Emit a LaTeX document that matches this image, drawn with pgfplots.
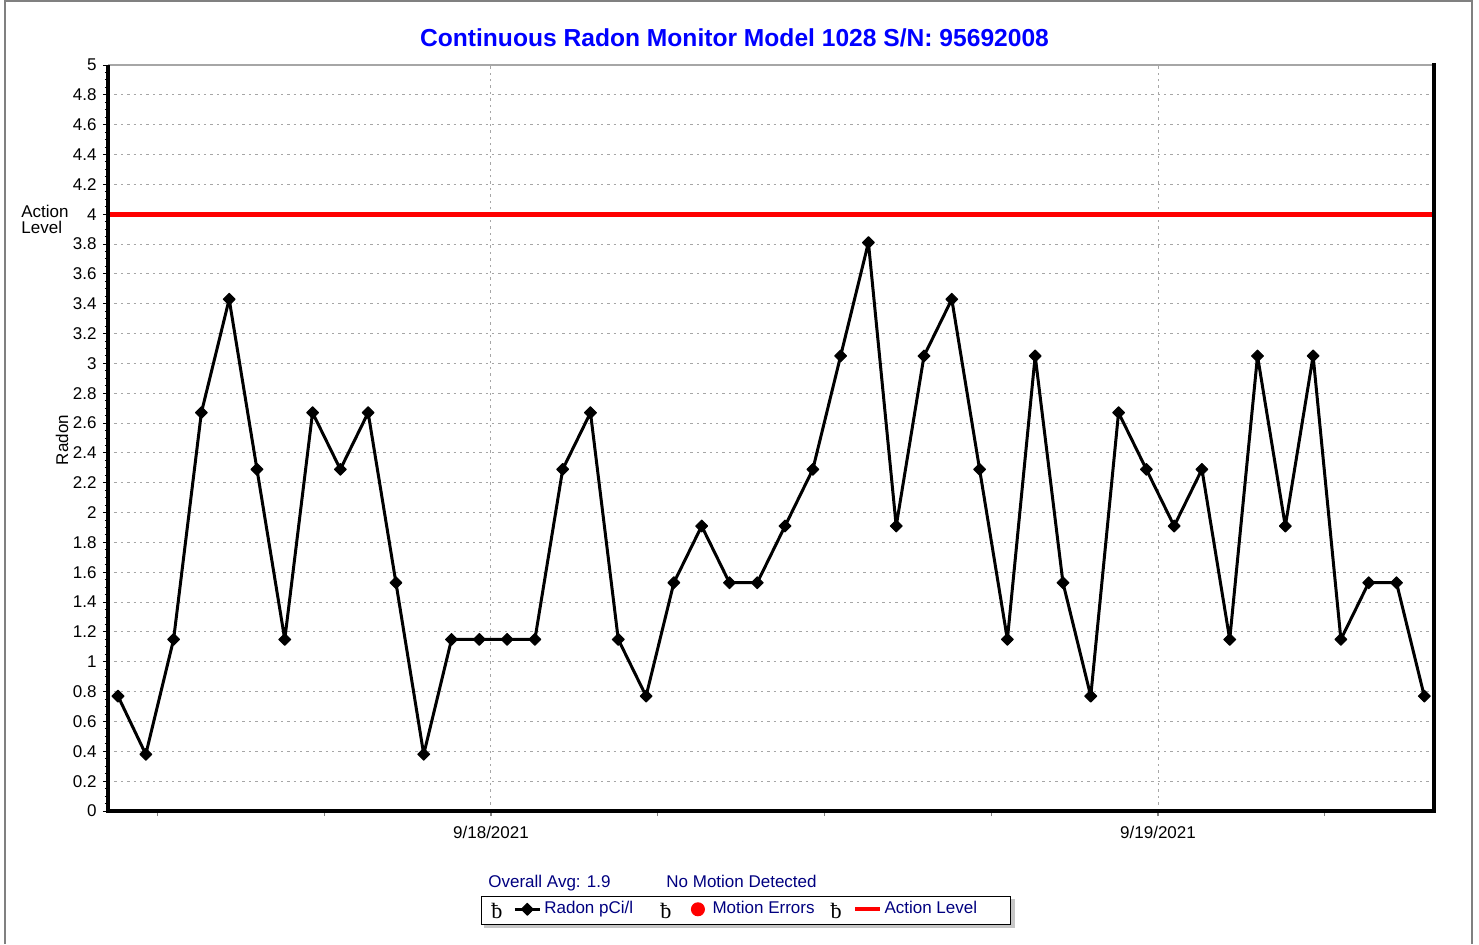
\documentclass[border=0pt]{standalone}
\usepackage{fontspec}
\setmainfont{Liberation Sans}
\newfontfamily\bfnt{Liberation Serif}
\usepackage{pgfplots}
\pgfplotsset{compat=1.18}
\definecolor{navy}{RGB}{0,0,128}
\definecolor{titleblue}{RGB}{0,0,255}
\newcommand{\bsym}{\node[inner sep=0pt, text=black, font=\bfnt\fontsize{11}{11}\selectfont] at (0pt,-1.5pt) {ƀ};}
\begin{document}
\begin{tikzpicture}
\path (0,0) rectangle (739.5pt,472pt);
\draw[gray, line width=0.6pt] (2.5pt,0) -- (2.5pt,471.5pt) -- (736pt,471.5pt) -- (736pt,0);
\fill[gray!45] (242pt,8pt) rectangle (507.5pt,22.5pt);
\begin{axis}[
  at={(54pt,66.5pt)}, anchor=south west,
  width=663pt, height=373pt, scale only axis,
  xmin=-13.78, xmax=33.93, ymin=0, ymax=5,
  ytick={0,0.2,0.4,0.6,0.8,1,1.2,1.4,1.6,1.8,2,2.2,2.4,2.6,2.8,3,3.2,3.4,3.6,3.8,4,4.2,4.4,4.6,4.8,5},
  yticklabel style={/pgf/number format/fixed, /pgf/number format/precision=1},
  /pgf/number format/assume math mode=true,
  minor y tick num=3,
  ytick pos=left, xtick pos=bottom,
  tick align=outside,
  major tick length=2.5pt, minor tick length=1.5pt,
  x tick style={gray, line width=0.6pt},
  y tick style={black, line width=0.5pt},
  ymajorgrids,
  major grid style={gray!70, dash pattern=on 1.2pt off 2pt, line width=0.5pt},
  xtick={-12,-6,6,12,18,30}, xticklabels={},
  extra x ticks={0,24}, extra x tick labels={9/18/2021,9/19/2021},
  extra x tick style={xmajorgrids=true},
  ticklabel style={font=\fontsize{8.5}{10}\selectfont},
  yticklabel style={anchor=east, inner sep=0pt, xshift=-3pt},
  xticklabel style={anchor=north, inner sep=0pt, yshift=-5pt},
  axis line style={draw=none},
  after end axis/.code={
    \draw[gray!70, line width=1pt] (rel axis cs:0,1) -- (rel axis cs:1,1);
    \draw[black, line width=2pt] (rel axis cs:0,1) -- (rel axis cs:0,0) -- (rel axis cs:1,0) -- ([yshift=1pt]rel axis cs:1,1);
  },
  legend columns=3,
  legend style={at={(0.4811,-0.1334)}, anchor=center, draw=black, line width=0.6pt, fill=white,
    font=\fontsize{8.5}{10}\selectfont, text=navy, inner xsep=3pt, inner ysep=1.5pt,
    /tikz/every even column/.append style={column sep=9pt},
    nodes={inner sep=1pt}},
]
\addplot[black, line width=1.5pt, line join=round, mark=square*, mark size=2.1pt, mark options={rotate=45, line width=0.5pt},
  legend image code/.code={\bsym
    \path (-4pt,0pt) (22pt,0pt);
    \draw[black, line width=1.5pt] (9pt,0pt) -- (21.5pt,0pt);
    \draw[black, line width=0.5pt, mark=square*, mark size=2.1pt, mark options={rotate=45}] plot coordinates {(15.25pt,0pt)};}]
coordinates {
(-13.42,0.77) (-12.42,0.38) (-11.42,1.15) (-10.42,2.67) (-9.42,3.43) (-8.42,2.29)
(-7.42,1.15) (-6.42,2.67) (-5.42,2.29) (-4.42,2.67) (-3.42,1.53) (-2.42,0.38)
(-1.42,1.15) (-0.42,1.15) (0.58,1.15) (1.58,1.15) (2.58,2.29) (3.58,2.67)
(4.58,1.15) (5.58,0.77) (6.58,1.53) (7.58,1.91) (8.58,1.53) (9.58,1.53)
(10.58,1.91) (11.58,2.29) (12.58,3.05) (13.58,3.81) (14.58,1.91) (15.58,3.05)
(16.58,3.43) (17.58,2.29) (18.58,1.15) (19.58,3.05) (20.58,1.53) (21.58,0.77)
(22.58,2.67) (23.58,2.29) (24.58,1.91) (25.58,2.29) (26.58,1.15) (27.58,3.05)
(28.58,1.91) (29.58,3.05) (30.58,1.15) (31.58,1.53) (32.58,1.53) (33.58,0.77)
};
\addlegendentry{\makebox[46.5pt][l]{Radon pCi/l}}
\addlegendimage{red, only marks, mark=*, legend image code/.code={\bsym
    \path (-4pt,0pt) (22pt,0pt);
    \fill[red] (16pt,0pt) circle (3.2pt);}}
\addlegendentry{\makebox[46.5pt][l]{Motion Errors}}
\addplot[red, line width=2.5pt,
  legend image code/.code={\bsym
    \path (-4pt,0pt) (22pt,0pt);
    \draw[red, line width=2pt] (9.5pt,0pt) -- (22pt,0pt);}]
coordinates {(-13.78,4) (33.98,4)};
\addlegendentry{\makebox[59pt][l]{Action Level}}
\end{axis}
\node[anchor=base, text=titleblue, font=\bfseries\fontsize{12.3}{14}\selectfont, inner sep=0pt] at (367.25pt,448.5pt) {Continuous Radon Monitor Model 1028 S/N: 95692008};
\node[anchor=base west, text=navy, font=\fontsize{8.5}{10}\selectfont, inner sep=0pt] at (244pt,28.5pt) {Overall Avg: 1.9};
\node[anchor=base west, text=navy, font=\fontsize{8.5}{10}\selectfont, inner sep=0pt] at (333pt,28.5pt) {No Motion Detected};
\node[rotate=90, font=\fontsize{8.5}{10}\selectfont, inner sep=0pt] at (31pt,252pt) {Radon};
\node[anchor=west, align=left, font=\fontsize{8.5}{8}\selectfont, inner sep=0pt] at (10.5pt,362.5pt) {Action\\Level};
\end{tikzpicture}
\end{document}
